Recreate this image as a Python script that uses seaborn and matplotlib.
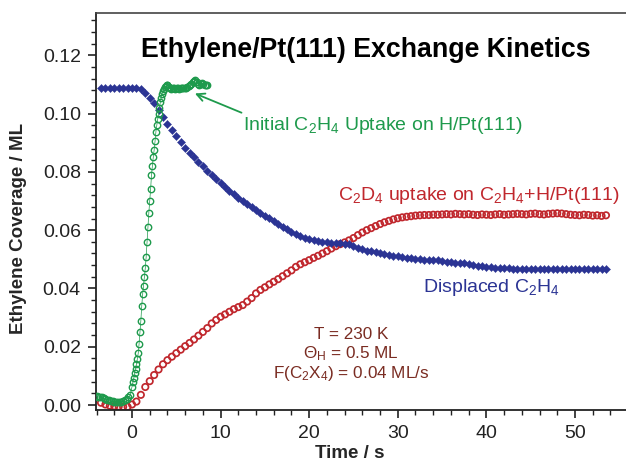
import matplotlib
matplotlib.use("Agg")
import matplotlib.pyplot as plt
from matplotlib.ticker import MultipleLocator, FormatStrFormatter
import seaborn as sns

# ---------------- data ----------------
time_s = [-3.5, -3.0, -2.5, -2.0, -1.5, -1.0, -0.5, 0.0, 0.5, 1.0,
          1.5, 2.0, 2.5, 3.0, 3.5, 4.0, 4.5, 5.0, 5.5, 6.0, 6.5, 7.0, 7.5, 8.0, 8.5, 9.0, 9.5, 10.0,
          10.5, 11.0, 11.5, 12.0, 12.5, 13.0, 13.5, 14.0, 14.5, 15.0, 15.5, 16.0, 16.5, 17.0, 17.5, 18.0, 18.5, 19.0, 19.5, 20.0,
          20.5, 21.0, 21.5, 22.0, 22.5, 23.0, 23.5, 24.0, 24.5, 25.0, 25.5, 26.0, 26.5, 27.0, 27.5, 28.0, 28.5, 29.0, 29.5, 30.0,
          30.5, 31.0, 31.5, 32.0, 32.5, 33.0, 33.5, 34.0, 34.5, 35.0, 35.5, 36.0, 36.5, 37.0, 37.5, 38.0, 38.5, 39.0, 39.5, 40.0,
          40.5, 41.0, 41.5, 42.0, 42.5, 43.0, 43.5, 44.0, 44.5, 45.0, 45.5, 46.0, 46.5, 47.0, 47.5, 48.0, 48.5, 49.0, 49.5, 50.0,
          50.5, 51.0, 51.5, 52.0, 52.5, 53.0, 53.5]

displaced_c2h4 = [0.1089, 0.1089, 0.1089, 0.1089, 0.1089, 0.1089, 0.1089, 0.1089, 0.1088, 0.1085,
                  0.1072, 0.1055, 0.1035, 0.1012, 0.0988, 0.0965, 0.0942, 0.0922, 0.0902, 0.0882, 0.0866, 0.0850, 0.0835, 0.0820, 0.0804, 0.0790, 0.0776, 0.0762,
                  0.0748, 0.0735, 0.0723, 0.0712, 0.0701, 0.0690, 0.0680, 0.0670, 0.0660, 0.0650, 0.0641, 0.0631, 0.0622, 0.0612, 0.0603, 0.0595, 0.0587, 0.0580, 0.0574, 0.0569,
                  0.0565, 0.0562, 0.0560, 0.0558, 0.0556, 0.0555, 0.0555, 0.0553, 0.0551, 0.0545, 0.0539, 0.0534, 0.0530, 0.0527, 0.0524, 0.0521, 0.0518, 0.0515, 0.0512, 0.0510,
                  0.0508, 0.0506, 0.0504, 0.0502, 0.0500, 0.0499, 0.0498, 0.0497, 0.0496, 0.0494, 0.0492, 0.0490, 0.0488, 0.0487, 0.0486, 0.0484, 0.0481, 0.0478, 0.0476, 0.0474,
                  0.0472, 0.0471, 0.0470, 0.0469, 0.0469, 0.0468, 0.0468, 0.0468, 0.0467, 0.0467, 0.0467, 0.0467, 0.0466, 0.0466, 0.0466, 0.0466, 0.0466, 0.0466, 0.0466, 0.0466,
                  0.0466, 0.0466, 0.0466, 0.0466, 0.0466, 0.0466, 0.0466]

c2d4_uptake = [0.0008, 0.0002, -0.0002, -0.0004, -0.0005, -0.0006, -0.0006, 0.0002, 0.0012, 0.0035,
               0.0062, 0.0082, 0.0103, 0.0122, 0.0140, 0.0154, 0.0166, 0.0178, 0.0190, 0.0202, 0.0213, 0.0225, 0.0238, 0.0251, 0.0264, 0.0280, 0.0292, 0.0303,
               0.0311, 0.0320, 0.0329, 0.0336, 0.0343, 0.0355, 0.0367, 0.0383, 0.0395, 0.0404, 0.0414, 0.0423, 0.0432, 0.0442, 0.0452, 0.0462, 0.0474, 0.0483, 0.0490, 0.0497,
               0.0505, 0.0512, 0.0520, 0.0528, 0.0537, 0.0545, 0.0552, 0.0558, 0.0565, 0.0573, 0.0583, 0.0592, 0.0600, 0.0607, 0.0614, 0.0621, 0.0627, 0.0632, 0.0637, 0.0641,
               0.0644, 0.0646, 0.0648, 0.0650, 0.0651, 0.0652, 0.0652, 0.0653, 0.0653, 0.0654, 0.0655, 0.0654, 0.0656, 0.0655, 0.0654, 0.0655, 0.0653, 0.0652, 0.0654, 0.0653,
               0.0652, 0.0654, 0.0655, 0.0653, 0.0654, 0.0655, 0.0656, 0.0655, 0.0654, 0.0656, 0.0657, 0.0655, 0.0654, 0.0656, 0.0657, 0.0658, 0.0657, 0.0655, 0.0653, 0.0652,
               0.0651, 0.0653, 0.0652, 0.0650, 0.0651, 0.0649, 0.0651]

initial_time = [-4.0, -3.8, -3.6, -3.4, -3.2, -3.0, -2.8, -2.6, -2.4, -2.2, -2.0, -1.8, -1.6, -1.4, -1.2, -1.0, -0.8, -0.6, -0.4, -0.2,
                0.0, 0.1, 0.2, 0.3, 0.4, 0.5, 0.6, 0.7, 0.8, 0.9, 1.0, 1.1, 1.2, 1.3, 1.4, 1.5, 1.6, 1.7, 1.8, 1.9, 2.0,
                2.1, 2.2, 2.3, 2.4, 2.5, 2.6, 2.7, 2.8, 2.9, 3.0, 3.1, 3.2, 3.3, 3.4, 3.5, 3.6, 3.7, 3.8, 3.9, 4.0,
                4.15, 4.3, 4.45, 4.6, 4.75, 4.9, 5.05, 5.2, 5.35, 5.5, 5.65, 5.8, 5.95, 6.1, 6.25, 6.4, 6.55, 6.7, 6.85, 7.0,
                7.15, 7.3, 7.45, 7.6, 7.75, 7.9, 8.05, 8.2, 8.35, 8.5]
initial_uptake = [0.0030, 0.0028, 0.0026, 0.0027, 0.0023, 0.0020, 0.0019, 0.0016, 0.0013, 0.0015, 0.0011, 0.0012, 0.0009, 0.0011, 0.0012, 0.0015, 0.0018, 0.0022, 0.0027, 0.0034,
                  0.0063, 0.0078, 0.0092, 0.0110, 0.0125, 0.0140, 0.0158, 0.0177, 0.0210, 0.0251, 0.0290, 0.0340, 0.0380, 0.0410, 0.0440, 0.0470, 0.0509, 0.0560, 0.0610, 0.0660, 0.0700,
                  0.0740, 0.0789, 0.0820, 0.0850, 0.0875, 0.0905, 0.0938, 0.0960, 0.0982, 0.1000, 0.1020, 0.1040, 0.1055, 0.1068, 0.1078, 0.1085, 0.1090, 0.1095, 0.1098, 0.1098,
                  0.1092, 0.1088, 0.1086, 0.1087, 0.1089, 0.1086, 0.1088, 0.1087, 0.1086, 0.1088, 0.1087, 0.1088, 0.1089, 0.1088, 0.1090, 0.1093, 0.1097, 0.1102, 0.1108, 0.1113,
                  0.1116, 0.1110, 0.1102, 0.1098, 0.1100, 0.1104, 0.1101, 0.1098, 0.1097, 0.1099]

x_ticks = [0, 10, 20, 30, 40, 50]
y_ticks = [0.00, 0.02, 0.04, 0.06, 0.08, 0.10, 0.12]

title_text = "Ethylene/Pt(111) Exchange Kinetics"
x_label = "Time / s"
y_label = "Ethylene Coverage / ML"
green_label = r"Initial C$_2$H$_4$ Uptake on H/Pt(111)"
red_label = r"C$_2$D$_4$ uptake on C$_2$H$_4$+H/Pt(111)"
blue_label = r"Displaced C$_2$H$_4$"
conditions = ["T = 230 K", r"$\Theta_H$ = 0.5 ML", r"F(C$_2$X$_4$) = 0.04 ML/s"]

# ---------------- style ----------------
BLUE = "#2b3494"
RED = "#c0272d"
GREEN = "#1e9a4c"
BROWN = "#7a2c22"

sns.set_style("ticks")
plt.rcParams["font.family"] = ["Liberation Sans", "DejaVu Sans"]
plt.rcParams["mathtext.fontset"] = "custom"
plt.rcParams["mathtext.rm"] = "Liberation Sans"
plt.rcParams["mathtext.it"] = "Liberation Sans:italic"
plt.rcParams["mathtext.bf"] = "Liberation Sans:bold"
plt.rcParams["mathtext.default"] = "regular"

fig = plt.figure(figsize=(6.26, 4.68), dpi=100)
ax = fig.add_axes([0.1534, 0.1239, 0.8466, 0.8483])

sns.scatterplot(x=time_s, y=c2d4_uptake, ax=ax, marker="o", s=21,
                facecolor="none", edgecolor=RED, linewidth=1.25, zorder=2)
sns.scatterplot(x=time_s, y=displaced_c2h4, ax=ax, marker="D", s=17,
                color=BLUE, edgecolor=BLUE, linewidth=0.3, zorder=3)
sns.lineplot(x=initial_time, y=initial_uptake, ax=ax, sort=False, estimator=None,
             color=GREEN, linewidth=0.5, marker="o", markersize=4.6,
             markerfacecolor="none", markeredgecolor=GREEN, markeredgewidth=1.0, zorder=4)

ax.set_xlim(-4.06, 55.76)
ax.set_ylim(-0.0017, 0.1345)
ax.set_xticks(x_ticks)
ax.set_yticks(y_ticks)
ax.xaxis.set_minor_locator(MultipleLocator(2))
ax.yaxis.set_minor_locator(MultipleLocator(0.004))
ax.yaxis.set_major_formatter(FormatStrFormatter("%.2f"))
ax.tick_params(which="major", direction="out", length=6, width=1.2, labelsize=14,
               colors="#222222", pad=5)
ax.tick_params(which="minor", direction="out", length=3.5, width=1.0, colors="#222222")

for side in ["left", "bottom"]:
    ax.spines[side].set_color("#222222")
    ax.spines[side].set_linewidth(1.3)
ax.spines["top"].set_color("#444444")
ax.spines["top"].set_linewidth(1.2)
ax.spines["right"].set_visible(False)

ax.set_xlabel(x_label, fontsize=13.5, fontweight="bold")
ax.set_ylabel(y_label, fontsize=13.5, fontweight="bold")
ax.xaxis.set_label_coords(0.479, -0.088)
ax.yaxis.set_label_coords(-0.13, 0.458)

ax.text(26.4, 0.1194, title_text, ha="center", va="baseline",
        fontsize=19.3, fontweight="bold", color="black")
ax.text(12.5, 0.0945, green_label, ha="left", va="baseline", fontsize=14, color=GREEN)
ax.annotate("", xy=(7.1, 0.1069), xytext=(12.36, 0.1003),
            arrowprops=dict(arrowstyle="->", color=GREEN, lw=1.3,
                            mutation_scale=14, shrinkA=0, shrinkB=0))
ax.text(23.25, 0.0703, red_label, ha="left", va="baseline", fontsize=14, color=RED)
ax.text(32.8, 0.0389, blue_label, ha="left", va="baseline", fontsize=14, color=BLUE)
for txt, yy in zip(conditions, [0.0228, 0.0160, 0.0094]):
    ax.text(24.7, yy, txt, ha="center", va="baseline", fontsize=12.3, color=BROWN)

fig.savefig("out.png", dpi=100)
